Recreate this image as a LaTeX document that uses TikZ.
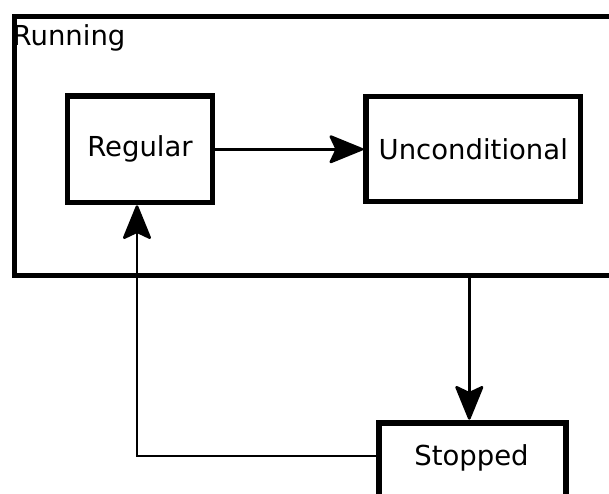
\documentclass[tikz,border=0pt]{standalone}
\usepackage{fontspec}
\setmainfont{DejaVu Sans}
\usetikzlibrary{arrows.meta}
\begin{document}
\begin{tikzpicture}[x=1pt,y=-1pt,
  txt/.style={font=\fontsize{27.5}{32}\selectfont, inner sep=0pt},
  statebox/.style={draw, line width=5.5pt, rectangle, inner sep=0pt, txt},
  conn/.style={line width=2.6pt, -{Stealth[length=37pt,width=30pt,inset=7pt,round]}}
]
\useasboundingbox (0,0) rectangle (609,493);
\clip (0,0) rectangle (609,493);
% Running container
\node[draw, line width=4.5pt, rectangle, inner sep=0pt, minimum width=628pt, minimum height=259pt, anchor=north west] (Running) at (12,14) {};
\node[txt, anchor=base west] (RunningLabel) at (12.5,45) {Running};
% states
\node[statebox, minimum width=145pt, minimum height=106.5pt] (Regular) at (140,149.25) {Regular};
\node[statebox, minimum width=214.5pt, minimum height=105pt] (Unconditional) at (473.25,149) {Unconditional};
\node[statebox, line width=6pt, minimum width=186.7pt, minimum height=110pt, anchor=north] (Stopped) at (472.35,419.7) {};
\node[txt, anchor=base] (StoppedLabel) at (471.5,465.7) {Stopped};
% connectors
\draw[conn] (Regular.east) -- (Regular.east -| Unconditional.west);
\coordinate (rs) at (469.3,273);
\draw[conn] (rs) -- (rs |- Stopped.north);
\coordinate (bend) at (137,456);
\draw[conn] (bend -| Stopped.west) -- (bend) -- (bend |- Regular.south);
\end{tikzpicture}
\end{document}
